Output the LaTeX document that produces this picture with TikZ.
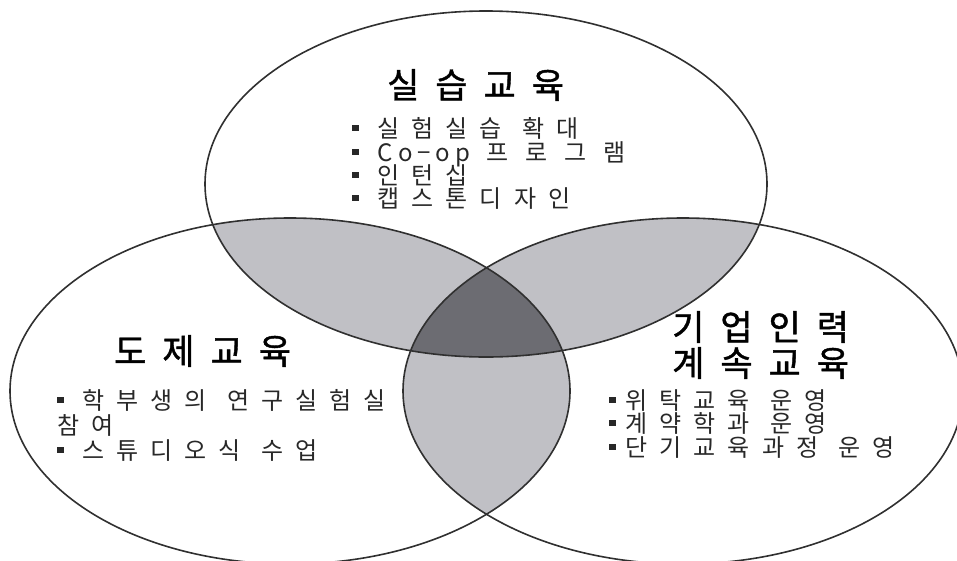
\documentclass[tikz,border=0pt]{standalone}
\usepackage{fontspec}
\newfontfamily\kr{Noto Sans CJK KR}
\newfontfamily\krtitle{Noto Sans CJK KR}[FakeBold=1.2]
\definecolor{pairgray}{RGB}{192,192,197}
\definecolor{tripgray}{RGB}{108,108,114}
\definecolor{edgegray}{RGB}{48,48,48}
\definecolor{txt}{RGB}{40,40,40}
\newcommand\blt[1]{\rule[6pt]{6.5pt}{6.5pt}\hspace{#1}}
\newcommand\ks{\hspace{12pt}}
\newcommand\kw{\hspace{20pt}}
\newcommand\kt{\hspace{16pt}}
\tikzset{
  venn/.style={draw=edgegray,line width=1.6pt},
  ttl/.style={text=black,font=\krtitle\fontsize{35pt}{40pt}\selectfont,inner sep=0pt,anchor=west},
  itm/.style={text=txt,font=\kr\fontsize{24pt}{28pt}\selectfont,inner sep=0pt,anchor=base west},
}
\begin{document}
\begin{tikzpicture}[x=1pt,y=-1pt]
\useasboundingbox (0,0) rectangle (957,560);
\def\topE{(486,184) ellipse [x radius=281pt, y radius=173pt]}
\def\leftE{(290,391) ellipse [x radius=280pt, y radius=173pt]}
\def\rightE{(683,391) ellipse [x radius=280pt, y radius=173pt]}
% pairwise overlaps
\begin{scope}
  \clip \topE;
  \fill[pairgray] \leftE;
  \fill[pairgray] \rightE;
\end{scope}
\begin{scope}
  \clip \leftE;
  \fill[pairgray] \rightE;
\end{scope}
% triple overlap
\begin{scope}
  \clip \topE;
  \clip \leftE;
  \fill[tripgray] \rightE;
\end{scope}
% outlines
\draw[venn] \topE;
\draw[venn] \leftE;
\draw[venn] \rightE;
% top set
\node[ttl] (ttitle) at (387,85) {실\kt 습\kt 교\kt 육};
\node[itm] (t1) at (352,137) {\blt{19pt}실\ks 험\ks 실\ks 습\kw 확\ks 대};
\node[itm] (t2) at (352,161) {\blt{19pt}C\kern5pt o\kern5pt −\kern5pt o\kern5pt p\hspace{16pt}프\hspace{17pt}로\hspace{17pt}그\hspace{17pt}램};
\node[itm] (t3) at (352,184) {\blt{19pt}인\ks 턴\ks 십};
\node[itm] (t4) at (352,207) {\blt{19pt}캡\ks 스\ks 톤\ks 디\ks 자\ks 인};
% left set
\node[ttl] (ltitle) at (114,351) {도\kt 제\kt 교\kt 육};
\node[itm] (l1) at (57,409) {\blt{19pt}학\ks 부\ks 생\ks 의\kw 연\ks 구\ks 실\ks 험\ks 실};
\node[itm] (l2) at (57,434) {참\ks 여};
\node[itm] (l3) at (57,459) {\blt{19pt}스\ks 튜\ks 디\ks 오\ks 식\kw 수\ks 업};
% right set
\node[ttl] (rtitle1) at (672,327) {기\kt 업\kt 인\kt 력};
\node[ttl] (rtitle2) at (672,363) {계\kt 속\kt 교\kt 육};
\node[itm] (r1) at (609,409) {\blt{10pt}위\ks 탁\ks 교\ks 육\kw 운\ks 영};
\node[itm] (r2) at (609,432) {\blt{10pt}계\ks 약\ks 학\ks 과\kw 운\ks 영};
\node[itm] (r3) at (609,456) {\blt{10pt}단\ks 기\ks 교\ks 육\ks 과\ks 정\kw 운\ks 영};
\end{tikzpicture}
\end{document}
